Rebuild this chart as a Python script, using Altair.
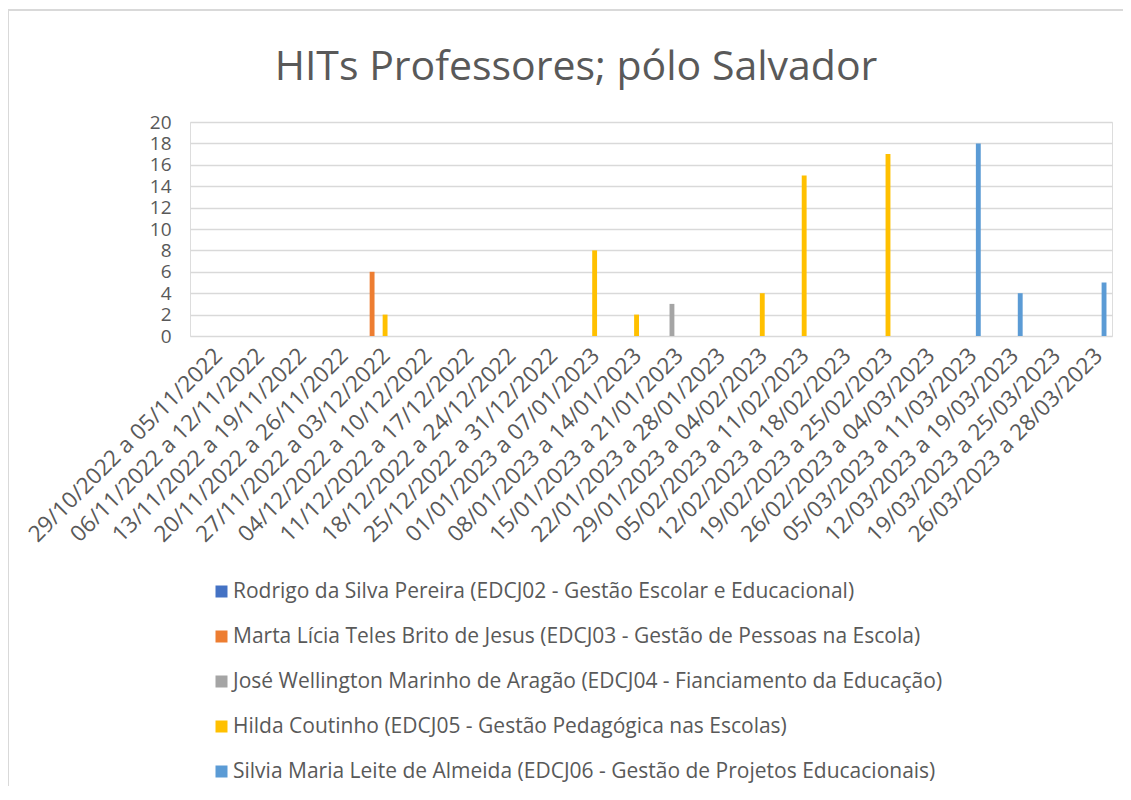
import altair as alt
import pandas as pd

categorias = [
    "29/10/2022 a 05/11/2022", "06/11/2022 a 12/11/2022", "13/11/2022 a 19/11/2022",
    "20/11/2022 a 26/11/2022", "27/11/2022 a 03/12/2022", "04/12/2022 a 10/12/2022",
    "11/12/2022 a 17/12/2022", "18/12/2022 a 24/12/2022", "25/12/2022 a 31/12/2022",
    "01/01/2023 a 07/01/2023", "08/01/2023 a 14/01/2023", "15/01/2023 a 21/01/2023",
    "22/01/2023 a 28/01/2023", "29/01/2023 a 04/02/2023", "05/02/2023 a 11/02/2023",
    "12/02/2023 a 18/02/2023", "19/02/2023 a 25/02/2023", "26/02/2023 a 04/03/2023",
    "05/03/2023 a 11/03/2023", "12/03/2023 a 19/03/2023", "19/03/2023 a 25/03/2023",
    "26/03/2023 a 28/03/2023",
]

series = [
    "Rodrigo da Silva Pereira (EDCJ02 - Gestão Escolar e Educacional)",
    "Marta Lícia Teles Brito de Jesus (EDCJ03 - Gestão de Pessoas na Escola)",
    "José Wellington Marinho de Aragão (EDCJ04 - Fianciamento da Educação)",
    "Hilda Coutinho (EDCJ05 - Gestão Pedagógica nas Escolas)",
    "Silvia Maria Leite de Almeida (EDCJ06 - Gestão de Projetos Educacionais)",
]
cores = ["#4472C4", "#ED7D31", "#A5A5A5", "#FFC000", "#5B9BD5"]

titulo = "HITs Professores; pólo Salvador"

rodrigo = [0] * 22
marta = [0, 0, 0, 0, 6, 0, 0, 0, 0, 0, 0, 0, 0, 0, 0, 0, 0, 0, 0, 0, 0, 0]
jose = [0, 0, 0, 0, 0, 0, 0, 0, 0, 0, 0, 3, 0, 0, 0, 0, 0, 0, 0, 0, 0, 0]
hilda = [0, 0, 0, 0, 2, 0, 0, 0, 0, 8, 2, 0, 0, 4, 15, 0, 17, 0, 0, 0, 0, 0]
silvia = [0, 0, 0, 0, 0, 0, 0, 0, 0, 0, 0, 0, 0, 0, 0, 0, 0, 0, 18, 4, 0, 5]

valores = [rodrigo, marta, jose, hilda, silvia]
rows = []
for s, vals in zip(series, valores):
    for c, v in zip(categorias, vals):
        if v > 0:
            rows.append({"semana": c, "serie": s, "valor": v})
df = pd.DataFrame(rows)

FONT = "Open Sans"
TXT = "#595959"
GRID = "#D9D9D9"

bars = alt.Chart(df).mark_bar().encode(
    x=alt.X("semana:N", sort=categorias,
            scale=alt.Scale(domain=categorias, paddingInner=0, paddingOuter=0),
            axis=alt.Axis(title=None, labelAngle=-45, labelFontSize=22.5, labelFont=FONT,
                          labelColor=TXT, ticks=False, domain=False, grid=False,
                          labelPadding=8, labelLimit=500, labelOverlap=False)),
    xOffset=alt.XOffset("serie:N", sort=series,
                        scale=alt.Scale(domain=series, paddingInner=0.25, paddingOuter=0.85)),
    y=alt.Y("valor:Q", scale=alt.Scale(domain=[0, 20], nice=False),
            axis=alt.Axis(title=None, values=list(range(0, 21, 2)), grid=True,
                          gridColor=GRID, gridWidth=1.5, domain=False, ticks=False,
                          labelPadding=19, labelFontSize=19, labelFont=FONT, labelColor=TXT)),
    color=alt.Color("serie:N", sort=series, scale=alt.Scale(domain=series, range=cores),
                    legend=alt.Legend(title=None, orient="none", legendX=21, legendY=459,
                                      direction="vertical", labelFontSize=21, labelFont=FONT,
                                      labelColor=TXT, labelLimit=1200, symbolType="square",
                                      symbolSize=144, symbolStrokeWidth=0, rowPadding=23,
                                      labelOffset=1)),
)

border = alt.Chart(pd.DataFrame({"b": [0]})).mark_rect(
    fill=None, stroke=GRID, strokeWidth=2
).encode(
    x=alt.value(-182), x2=alt.value(1000), y=alt.value(-112), y2=alt.value(720)
)

title_mark = alt.Chart(pd.DataFrame({"t": [titulo]})).mark_text(
    font=FONT, fontSize=41, color=TXT, align="center", baseline="alphabetic"
).encode(
    text="t:N", x=alt.value(386), y=alt.value(-42)
)

chart = alt.layer(border, bars, title_mark).properties(
    width=922, height=214,
    autosize=alt.AutoSizeParams(type="none"),
    padding={"left": 182, "top": 114, "right": 11, "bottom": 450},
).configure_view(stroke=None).configure(background="white")

chart.save("out.html", embed_options={"renderer": "svg", "actions": False})
